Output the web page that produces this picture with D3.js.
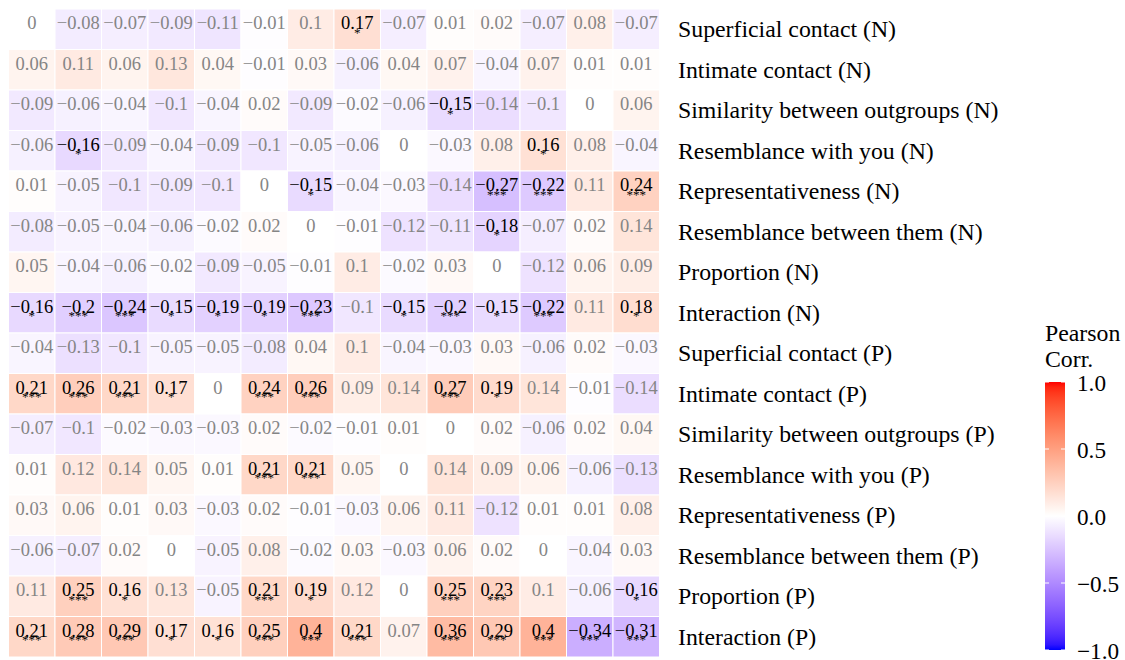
<!DOCTYPE html>
<html>
<head>
<meta charset="utf-8">
<script src="https://cdn.jsdelivr.net/npm/d3@7"></script>
<style>
  body { margin: 0; background: #fff; }
  svg { display: block; }
</style>
</head>
<body>
<svg id="chart" width="1125" height="660"></svg>
<script>
// row labels (top to bottom)
const rowLabels = [
  "Superficial contact (N)", "Intimate contact (N)", "Similarity between outgroups (N)",
  "Resemblance with you (N)", "Representativeness (N)", "Resemblance between them (N)",
  "Proportion (N)", "Interaction (N)",
  "Superficial contact (P)", "Intimate contact (P)", "Similarity between outgroups (P)",
  "Resemblance with you (P)", "Representativeness (P)", "Resemblance between them (P)",
  "Proportion (P)", "Interaction (P)"
];

const nCols = 14;

// correlation values, one row per label
const corr = [
  [0, -0.08, -0.07, -0.09, -0.11, -0.01, 0.1, 0.17, -0.07, 0.01, 0.02, -0.07, 0.08, -0.07],
  [0.06, 0.11, 0.06, 0.13, 0.04, -0.01, 0.03, -0.06, 0.04, 0.07, -0.04, 0.07, 0.01, 0.01],
  [-0.09, -0.06, -0.04, -0.1, -0.04, 0.02, -0.09, -0.02, -0.06, -0.15, -0.14, -0.1, 0, 0.06],
  [-0.06, -0.16, -0.09, -0.04, -0.09, -0.1, -0.05, -0.06, 0, -0.03, 0.08, 0.16, 0.08, -0.04],
  [0.01, -0.05, -0.1, -0.09, -0.1, 0, -0.15, -0.04, -0.03, -0.14, -0.27, -0.22, 0.11, 0.24],
  [-0.08, -0.05, -0.04, -0.06, -0.02, 0.02, 0, -0.01, -0.12, -0.11, -0.18, -0.07, 0.02, 0.14],
  [0.05, -0.04, -0.06, -0.02, -0.09, -0.05, -0.01, 0.1, -0.02, 0.03, 0, -0.12, 0.06, 0.09],
  [-0.16, -0.2, -0.24, -0.15, -0.19, -0.19, -0.23, -0.1, -0.15, -0.2, -0.15, -0.22, 0.11, 0.18],
  [-0.04, -0.13, -0.1, -0.05, -0.05, -0.08, 0.04, 0.1, -0.04, -0.03, 0.03, -0.06, 0.02, -0.03],
  [0.21, 0.26, 0.21, 0.17, 0, 0.24, 0.26, 0.09, 0.14, 0.27, 0.19, 0.14, -0.01, -0.14],
  [-0.07, -0.1, -0.02, -0.03, -0.03, 0.02, -0.02, -0.01, 0.01, 0, 0.02, -0.06, 0.02, 0.04],
  [0.01, 0.12, 0.14, 0.05, 0.01, 0.21, 0.21, 0.05, 0, 0.14, 0.09, 0.06, -0.06, -0.13],
  [0.03, 0.06, 0.01, 0.03, -0.03, 0.02, -0.01, -0.03, 0.06, 0.11, -0.12, 0.01, 0.01, 0.08],
  [-0.06, -0.07, 0.02, 0, -0.05, 0.08, -0.02, 0.03, -0.03, 0.06, 0.02, 0, -0.04, 0.03],
  [0.11, 0.25, 0.16, 0.13, -0.05, 0.21, 0.19, 0.12, 0, 0.25, 0.23, 0.1, -0.06, -0.16],
  [0.21, 0.28, 0.29, 0.17, 0.16, 0.25, 0.4, 0.21, 0.07, 0.36, 0.29, 0.4, -0.34, -0.31]
];

// number of significance stars per cell
const stars = [
  [0,0,0,0,0,0,0,1,0,0,0,0,0,0],
  [0,0,0,0,0,0,0,0,0,0,0,0,0,0],
  [0,0,0,0,0,0,0,0,0,1,0,0,0,0],
  [0,1,0,0,0,0,0,0,0,0,0,1,0,0],
  [0,0,0,0,0,0,1,0,0,0,3,3,0,3],
  [0,0,0,0,0,0,0,0,0,0,1,0,0,0],
  [0,0,0,0,0,0,0,0,0,0,0,0,0,0],
  [1,3,3,1,1,1,3,0,1,3,1,3,0,1],
  [0,0,0,0,0,0,0,0,0,0,0,0,0,0],
  [3,3,3,1,0,3,3,0,0,3,1,0,0,0],
  [0,0,0,0,0,0,0,0,0,0,0,0,0,0],
  [0,0,0,0,0,3,3,0,0,0,0,0,0,0],
  [0,0,0,0,0,0,0,0,0,0,0,0,0,0],
  [0,0,0,0,0,0,0,0,0,0,0,0,0,0],
  [0,3,1,0,0,3,1,0,0,3,3,0,0,1],
  [3,3,3,1,1,3,3,3,0,3,3,3,3,3]
];

const legendTicks = [1, 0.5, 0, -0.5, -1];

const svg = d3.select('#chart');
const font = 'Liberation Serif';

const x = d3.scaleBand().domain(d3.range(nCols)).range([8.5, 659.5]);
const y = d3.scaleBand().domain(d3.range(rowLabels.length)).range([9, 657]);

const color = d3.scaleLinear()
  .domain([-1, 0, 1])
  .range(["blue", "white", "red"])
  .interpolate(d3.interpolateLab);

const cells = [];
corr.forEach((row, i) => row.forEach((v, j) => cells.push({i, j, v, s: stars[i][j]})));

const fmt = v => String(v).replace("-", "\u2212");

const g = svg.append('g');

g.selectAll('rect')
  .data(cells)
  .enter()
  .append('rect')
    .attr('x', d => x(d.j))
    .attr('y', d => y(d.i))
    .attr('width', x.bandwidth())
    .attr('height', y.bandwidth())
    .attr('fill', d => color(d.v))
    .attr('stroke', 'white')
    .attr('stroke-width', 1);

g.selectAll('text.val')
  .data(cells)
  .enter()
  .append('text')
    .attr('class', 'val')
    .attr('x', d => x(d.j) + x.bandwidth() / 2)
    .attr('y', d => y(d.i) + y.bandwidth() / 2)
    .attr('text-anchor', 'middle')
    .attr('font-family', font)
    .attr('font-size', 18.5)
    .attr('fill', d => d.s ? '#000' : '#858585')
    .text(d => fmt(d.v));

// stars sit just under the number
g.selectAll('text.star')
  .data(cells.filter(d => d.s > 0))
  .enter()
  .append('text')
    .attr('class', 'star')
    .attr('x', d => x(d.j) + x.bandwidth() / 2)
    .attr('y', d => y(d.i) + y.bandwidth() / 2 + 7.5)
    .attr('text-anchor', 'middle')
    .attr('font-family', font)
    .attr('font-size', 13)
    .attr('fill', '#000')
    .text(d => "*".repeat(d.s));

// row labels on the right
svg.selectAll('text.row')
  .data(rowLabels)
  .enter()
  .append('text')
    .attr('class', 'row')
    .attr('x', 678)
    .attr('y', (d, i) => y(i) + y.bandwidth() / 2 + 8)
    .attr('font-family', font)
    .attr('font-size', 23.8)
    .attr('fill', '#000')
    .text(d => d);

// legend
const barX = 1045, barW = 20;
const ly = d3.scaleLinear().domain([1, -1]).range([382, 650]);

const grad = svg.append('defs').append('linearGradient')
  .attr('id', 'grad')
  .attr('x1', 0).attr('y1', 0).attr('x2', 0).attr('y2', 1);
d3.range(0, 1.0001, 0.02).forEach(t => {
  grad.append('stop')
    .attr('offset', t)
    .attr('stop-color', color(1 - 2 * t));
});

const legend = svg.append('g');
legend.append('text')
  .attr('x', barX).attr('y', 341)
  .attr('font-family', font).attr('font-size', 23.8)
  .text('Pearson');
legend.append('text')
  .attr('x', barX).attr('y', 367)
  .attr('font-family', font).attr('font-size', 23.8)
  .text('Corr.');

legend.append('rect')
  .attr('x', barX).attr('y', ly(1))
  .attr('width', barW).attr('height', ly(-1) - ly(1))
  .attr('fill', 'url(#grad)');

const tk = legend.selectAll('g.tick')
  .data(legendTicks)
  .enter()
  .append('g')
    .attr('class', 'tick');
tk.append('line')
  .attr('x1', barX).attr('x2', barX + 4)
  .attr('y1', d => ly(d)).attr('y2', d => ly(d))
  .attr('stroke', 'white').attr('stroke-width', 1);
tk.append('line')
  .attr('x1', barX + barW - 4).attr('x2', barX + barW)
  .attr('y1', d => ly(d)).attr('y2', d => ly(d))
  .attr('stroke', 'white').attr('stroke-width', 1);
tk.append('text')
  .attr('x', 1077)
  .attr('y', d => ly(d) + 9)
  .attr('font-family', font).attr('font-size', 23.2)
  .text(d => fmt(d3.format('.1f')(d)));
</script>
</body>
</html>
